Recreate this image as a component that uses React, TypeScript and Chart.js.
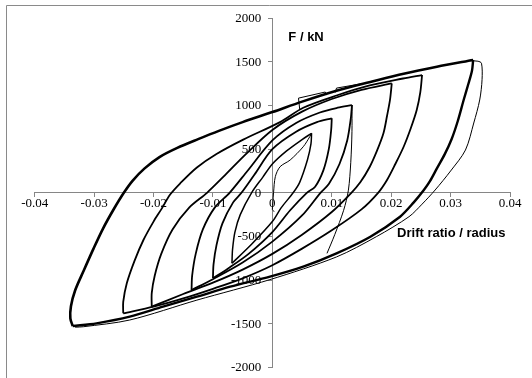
import React, { useEffect, useRef } from 'react';
import { Chart, registerables } from 'chart.js';
Chart.register(...registerables);

type Pt = [number, number];

// axis ticks
const xTickValues: number[] = [-0.04, -0.03, -0.02, -0.01, 0, 0.01, 0.02, 0.03, 0.04];
const yTickValues: number[] = [-2000, -1500, -1000, -500, 0, 500, 1000, 1500, 2000];

// Loop 6 (±0.034 drift)
const loop6Up: Pt[] = [[-0.0336, -1527], [-0.0340, -1440], [-0.0339, -1300], [-0.0332, -1120], [-0.0318, -900], [-0.0301, -640], [-0.0285, -410], [-0.0268, -200], [-0.0250, 0], [-0.0235, 140], [-0.0215, 280], [-0.0190, 410], [-0.0160, 515], [-0.0125, 615], [-0.0090, 710], [-0.0050, 810], [0, 925], [0.0050, 1045], [0.0108, 1170], [0.0165, 1270], [0.0221, 1365], [0.0277, 1445], [0.0338, 1522]];
const loop6Down: Pt[] = [[0.0338, 1522], [0.0336, 1400], [0.0330, 1250], [0.0322, 1064], [0.0312, 820], [0.0302, 620], [0.0290, 440], [0.0277, 280], [0.0265, 130], [0.0255, 32], [0.0238, -110], [0.0215, -274], [0.0165, -503], [0.0108, -694], [0.0052, -847], [-0.0004, -961], [-0.0071, -1076], [-0.0127, -1191], [-0.0184, -1305], [-0.0240, -1420], [-0.0296, -1496], [-0.0336, -1527]];
// thin outer envelope
const outerThin: Pt[] = [[0.0333, 1514], [0.0346, 1508], [0.0352, 1485], [0.0353, 1300], [0.0349, 1064], [0.0339, 800], [0.0325, 490], [0.0300, 250], [0.0274, 32], [0.0252, -130], [0.0230, -274], [0.0175, -503], [0.0108, -735], [-0.0004, -995], [-0.0127, -1230], [-0.0240, -1458], [-0.0318, -1535], [-0.0332, -1540]];
// small notches on the upper envelope
const notchA: Pt[] = [[0.0046, 960], [0.0044, 1085], [0.0089, 1155], [0.0091, 1120]];
const notchB: Pt[] = [[0.0106, 1150], [0.0108, 1200], [0.0150, 1250], [0.0152, 1235]];

// Loop 5 (±0.025)
const loop5Up: Pt[] = [[-0.0251, -1381], [-0.0251, -1250], [-0.0245, -1037], [-0.0232, -780], [-0.0217, -541], [-0.0200, -330], [-0.0187, -190], [-0.0172, -20], [-0.0155, 109], [-0.0127, 290], [-0.0094, 445], [-0.0049, 610], [0.0013, 810], [0.0052, 975], [0.0108, 1115], [0.0164, 1230], [0.0220, 1310], [0.0252, 1350]];
const loop5Down: Pt[] = [[0.0252, 1350], [0.0249, 1150], [0.0243, 949], [0.0233, 740], [0.0221, 528], [0.0207, 330], [0.0193, 147], [0.0178, 0], [0.0150, -190], [0.0100, -430], [0.0050, -640], [0, -830], [-0.0050, -980], [-0.0100, -1100], [-0.0150, -1210], [-0.0200, -1305], [-0.0251, -1381]];

// Loop 4 (±0.020)
const loop4Up: Pt[] = [[-0.0203, -1305], [-0.0203, -1150], [-0.0198, -950], [-0.0187, -700], [-0.0168, -420], [-0.0140, -170], [-0.0110, 0], [-0.0080, 200], [-0.0045, 440], [0, 720], [0.0050, 930], [0.0100, 1075], [0.0150, 1180], [0.0201, 1255]];
const loop4Down: Pt[] = [[0.0201, 1255], [0.0198, 1064], [0.0193, 880], [0.0187, 682], [0.0176, 480], [0.0164, 299], [0.0148, 120], [0.0133, 0], [0.0100, -220], [0.0050, -480], [0, -700], [-0.0050, -880], [-0.0100, -1030], [-0.0150, -1160], [-0.0203, -1305]];

// Loop 3 (±0.0135)
const loop3Up: Pt[] = [[-0.0136, -1114], [-0.0135, -950], [-0.0129, -700], [-0.0117, -420], [-0.0097, -170], [-0.0072, 0], [-0.0042, 250], [0, 600], [0.0040, 800], [0.0080, 920], [0.0110, 975], [0.0134, 1006]];
const loop3Down: Pt[] = [[0.0134, 1006], [0.0132, 850], [0.0126, 600], [0.0113, 330], [0.0095, 100], [0.0081, 0], [0.0050, -260], [0, -560], [-0.0050, -800], [-0.0100, -990], [-0.0136, -1114]];
const loop3Thin: Pt[] = [[0.0134, 1006], [0.0134, 700], [0.0132, 350], [0.0128, 30], [0.0120, -200], [0.0105, -480], [0.0092, -694]];

// Loop 2 (±0.010)
const loop2Up: Pt[] = [[-0.0100, -980], [-0.0099, -820], [-0.0094, -600], [-0.0084, -350], [-0.0066, -110], [-0.0052, 0], [-0.0030, 210], [0, 500], [0.0040, 700], [0.0075, 810], [0.0100, 854]];
const loop2Down: Pt[] = [[0.0100, 854], [0.0099, 720], [0.0095, 500], [0.0086, 260], [0.0072, 70], [0.0058, 0], [0.0030, -200], [0, -450], [-0.0040, -700], [-0.0075, -870], [-0.0100, -980]];

// Loop 1 (±0.0068) with initial loading
const initialLoad: Pt[] = [[0.0003, -215], [0, -190], [0.0001, -100], [0.0002, 0], [0.0005, 185], [0.0013, 299], [0.0030, 376], [0.0052, 528], [0.0063, 643], [0.0066, 682]];
const loop1Down: Pt[] = [[0.0066, 682], [0.0065, 560], [0.0059, 376], [0.0046, 120], [0.0035, 0], [0.0015, -170], [0, -330], [-0.0035, -590], [-0.0068, -808]];
const loop1Up: Pt[] = [[-0.0068, -808], [-0.0067, -650], [-0.0063, -450], [-0.0054, -250], [-0.0035, 0], [-0.0016, 180], [0, 330], [0.0024, 480], [0.0050, 610], [0.0066, 682]];

const branches: { pts: Pt[]; w: number; t: number }[] = [
  { pts: outerThin, w: 1, t: 0.3 },
  { pts: notchA, w: 1, t: 0 },
  { pts: notchB, w: 1, t: 0 },
  { pts: loop6Up, w: 2.6, t: 0.3 },
  { pts: loop6Down, w: 2.4, t: 0.3 },
  { pts: loop5Up, w: 1.8, t: 0.3 },
  { pts: loop5Down, w: 1.8, t: 0.3 },
  { pts: loop4Up, w: 1.8, t: 0.3 },
  { pts: loop4Down, w: 1.8, t: 0.3 },
  { pts: loop3Up, w: 1.8, t: 0.3 },
  { pts: loop3Down, w: 1.8, t: 0.3 },
  { pts: loop3Thin, w: 1, t: 0.3 },
  { pts: loop2Up, w: 1.8, t: 0.3 },
  { pts: loop2Down, w: 1.8, t: 0.3 },
  { pts: loop1Up, w: 1.5, t: 0.3 },
  { pts: loop1Down, w: 1.5, t: 0.3 },
  { pts: initialLoad, w: 1, t: 0.3 },
];

const AXIS_GRAY = '#868686';
const SERIF = '"Liberation Serif", "Times New Roman", serif';

const decor = {
  id: 'decor',
  beforeDraw(chart: any) {
    const ctx = chart.ctx;
    ctx.save();
    ctx.fillStyle = '#ffffff';
    ctx.fillRect(0, 0, chart.width, chart.height);
    ctx.strokeStyle = '#8a8a8a';
    ctx.lineWidth = 1;
    ctx.beginPath();
    ctx.moveTo(6.5, chart.height);
    ctx.lineTo(6.5, 5.5);
    ctx.lineTo(chart.width, 5.5);
    ctx.stroke();
    ctx.restore();
  },
  beforeDatasetsDraw(chart: any) {
    // y tick labels, to the left of the centred vertical axis
    const ctx = chart.ctx;
    const xs = chart.scales.x;
    const ys = chart.scales.y;
    const ax = xs.getPixelForValue(0);
    ctx.save();
    ctx.fillStyle = '#000';
    ctx.font = '13px ' + SERIF;
    ctx.textAlign = 'right';
    ctx.textBaseline = 'middle';
    yTickValues.forEach((v) => {
      ctx.fillText(String(v), ax - 11, ys.getPixelForValue(v) + 0.5);
    });
    ctx.restore();
  },
  afterDraw(chart: any) {
    const ctx = chart.ctx;
    const xs = chart.scales.x;
    const ys = chart.scales.y;
    ctx.save();
    ctx.fillStyle = '#000';
    ctx.font = 'bold 13px "Liberation Sans", Arial, sans-serif';
    ctx.textBaseline = 'middle';
    ctx.textAlign = 'left';
    ctx.fillText('F / kN', xs.getPixelForValue(0) + 16, ys.getPixelForValue(1785));
    ctx.fillText('Drift ratio / radius', xs.getPixelForValue(0.0210), ys.getPixelForValue(-463));
    ctx.restore();
  },
};

export default function App() {
  const ref = useRef<HTMLCanvasElement | null>(null);
  useEffect(() => {
    if (!ref.current) return;
    const chart = new Chart(ref.current, {
      type: 'scatter',
      data: {
        datasets: branches.map((b) => ({
          data: b.pts.map(([x, y]) => ({ x, y })),
          showLine: true,
          borderColor: '#000',
          borderWidth: b.w,
          pointRadius: 0,
          tension: b.t,
          fill: false,
        })),
      },
      options: {
        animation: false,
        responsive: false,
        events: [],
        layout: { padding: { left: 34.7, right: 22, top: 18.3, bottom: 10.7 } },
        plugins: { legend: { display: false }, tooltip: { enabled: false }, title: { display: false } },
        scales: {
          x: {
            type: 'linear',
            position: { y: 0 } as any,
            min: -0.04,
            max: 0.04,
            afterBuildTicks: (s: any) => { s.ticks = xTickValues.map((v) => ({ value: v })); },
            ticks: {
              autoSkip: false,
              maxRotation: 0,
              color: '#000',
              padding: -1,
              font: { family: SERIF, size: 13 },
              callback: (v: any) => (Math.abs(v) < 1e-9 ? '0' : Number(v).toFixed(2)),
            },
            grid: { drawOnChartArea: false, drawTicks: true, tickLength: 4, color: AXIS_GRAY },
            border: { color: AXIS_GRAY },
          },
          y: {
            type: 'linear',
            position: { x: 0 } as any,
            min: -2000,
            max: 2000,
            afterBuildTicks: (s: any) => { s.ticks = yTickValues.map((v) => ({ value: v })); },
            ticks: { display: false },
            grid: { drawOnChartArea: false, drawTicks: true, tickLength: 4, color: AXIS_GRAY },
            border: { color: AXIS_GRAY },
          },
        },
      },
      plugins: [decor],
    });
    return () => chart.destroy();
  }, []);
  return (
    <div style={{ position: 'absolute', left: 0, top: 0, width: 532, height: 378, background: '#fff' }}>
      <canvas ref={ref} width={532} height={378} style={{ width: 532, height: 378, display: 'block' }} />
    </div>
  );
}
